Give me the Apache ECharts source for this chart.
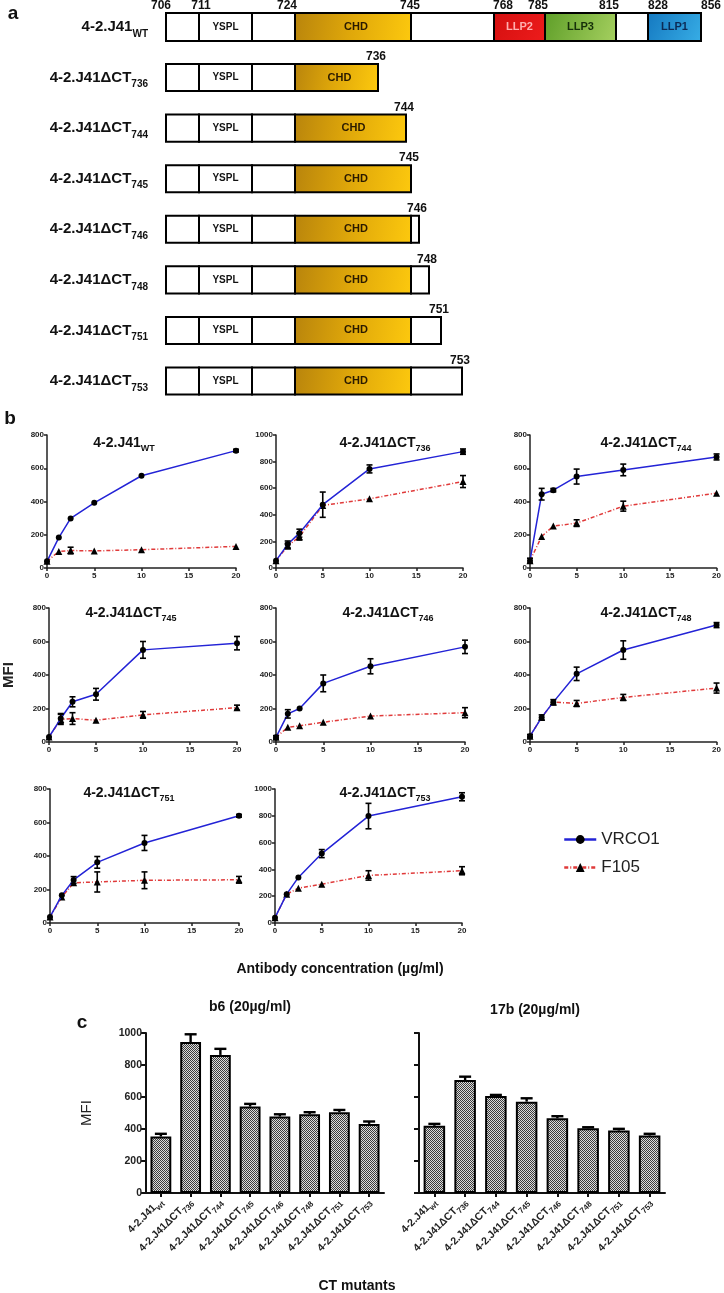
<!DOCTYPE html>
<html><head><meta charset="utf-8">
<script src="https://cdn.jsdelivr.net/npm/echarts@6/dist/echarts.min.js"></script>
<style>html,body{margin:0;padding:0;background:#fff}#c{width:724px;height:1293px}</style>
</head><body><div id="c"></div>
<script>
// ================= DATA =================
// Panel a : construct schematic (schematic units along the tail)
const constructs = ['WT','736','744','745','746','748','751','753'];
const segStart = [0,33,86,129,245,328,379,450,482];
const segEnd   = [33,86,129,245,328,379,450,482,535];
const segName  = ['','YSPL','','CHD','','LLP2','LLP3','','LLP1'];
const wtResidues   = [706,711,724,745,768,785,815,828,856];
const wtResiduePos = [0,33,129,245,328,379,450,482,535];
const truncResidues = [736,744,745,746,748,751,753];
const truncPos      = [212,240,245,253,263,275,296];

// Panel b : binding curves
const conc = [0,1.25,2.5,5,10,20];
const panelNames = ['WT','736','744','745','746','748','751','753'];
const panelYMax  = [800,1000,800,800,800,800,800,1000];
const vrc01Mean = [
  [40,183,298,392,555,706],
  [55,178,262,476,745,875],
  [44,444,468,550,590,668],
  [30,140,240,285,550,590],
  [28,168,200,350,452,568],
  [35,147,238,407,549,698],
  [36,165,257,362,478,640],
  [40,215,340,518,798,942]
];
const vrc01Err = [
  [0,0,0,0,0,8],
  [0,25,30,95,30,20],
  [15,35,10,45,35,18],
  [0,30,30,35,50,40],
  [10,25,0,50,45,40],
  [10,15,15,40,55,15],
  [0,0,20,35,45,8],
  [0,0,0,30,95,30]
];
const f105Mean = [
  [40,100,105,103,110,130],
  [55,165,235,470,520,650],
  [44,190,252,270,372,450],
  [30,135,140,130,162,205],
  [28,88,97,118,155,175],
  [35,147,238,230,266,322],
  [36,155,240,245,255,258],
  [40,215,260,290,355,390]
];
const f105Err = [
  [0,0,20,0,0,0],
  [0,20,25,0,0,45],
  [0,0,0,20,30,0],
  [0,30,35,0,20,15],
  [0,0,0,0,0,30],
  [0,0,0,18,18,30],
  [0,0,0,60,50,20],
  [0,0,0,0,35,30]
];

// Panel c : b6 and 17b binding at 20 ug/ml
const mutantLabels = ['wt','736','744','745','746','748','751','753'];
const b6Mean  = [353,943,863,540,478,492,505,432];
const b6Err   = [17,49,38,17,14,13,14,15];
const m17bMean = [420,706,607,571,467,405,390,359];
const m17bErr  = [12,21,6,21,13,6,11,11];

// ================= STYLE / LAYOUT =================
const NARROW = "'Liberation Sans Narrow','Liberation Sans',Arial,sans-serif";
const SANS = "'Liberation Sans',Arial,sans-serif";
const resLabelShift = [-5,2,-8,-1,9,-7,-7,10,10];
const domainFill = {
  '': '#ffffff',
  'YSPL': '#ffffff',
  'CHD': {type:'linear',x:0,y:0,x2:1,y2:0.6,colorStops:[{offset:0,color:'#b8840c'},{offset:0.5,color:'#e0a80a'},{offset:1,color:'#fcc80e'}]},
  'LLP2': {type:'linear',x:0,y:0,x2:1,y2:1,colorStops:[{offset:0,color:'#d40f0f'},{offset:1,color:'#ee1c1c'}]},
  'LLP3': {type:'linear',x:0,y:0,x2:1,y2:1,colorStops:[{offset:0,color:'#5e9e28'},{offset:1,color:'#a6d060'}]},
  'LLP1': {type:'linear',x:0,y:0,x2:1,y2:1,colorStops:[{offset:0,color:'#1478c0'},{offset:1,color:'#38aee6'}]}
};
const domainText = {'YSPL':'#111','CHD':'#2a1a00','LLP2':'#ffb0b0','LLP3':'#16300a','LLP1':'#0c2a55'};

const bGridLeft   = [47,276,530, 48,276,530, 50,275];
const bGridWidth  = [189,187,187, 189,189,187, 189,187];
const bGridTop    = [435,435,435, 608,608,608, 789,789];
const bGridHeight = [133,133,133, 134,134,134, 134,134];
const bTitleX = [124,385,646,131,388,646,129,385];
const bTitleY = [443,443,443,613,613,613,793,793];

// ================= BUILD =================
const grids = [], xAxes = [], yAxes = [], series = [], graphics = [];
const plain = v => String(v);

// ---- Panel a ----
grids.push({left:166, right:23, top:1.7, height:404.6});
xAxes.push({type:'value', gridIndex:0, min:0, max:535, show:false});
yAxes.push({type:'category', gridIndex:0, data:constructs, inverse:true,
  axisLine:{show:false}, axisTick:{show:false}, splitLine:{show:false},
  axisLabel:{margin:18, formatter:v => v==='WT' ? '{m|4-2.J41}{s|WT}' : '{m|4-2.J41\u0394CT}{s|'+v+'}',
    rich:{m:{fontFamily:NARROW,fontWeight:'bold',fontSize:15,color:'#111',lineHeight:24},
          s:{fontFamily:NARROW,fontWeight:'bold',fontSize:10,color:'#111',lineHeight:10,verticalAlign:'bottom'}}}
});
const segData = [];
constructs.forEach((c, r) => {
  const endLim = r === 0 ? 535 : truncPos[r-1];
  for (let i = 0; i < segStart.length; i++) {
    if (segStart[i] >= endLim) break;
    segData.push([segStart[i], Math.min(segEnd[i], endLim), r, i]);
  }
});
series.push({type:'custom', xAxisIndex:0, yAxisIndex:0, data:segData, encode:{x:[0,1], y:2},
  renderItem:(params, api) => {
    const s = api.coord([api.value(0), api.value(2)]);
    const e = api.coord([api.value(1), api.value(2)]);
    const row = api.value(2);
    const h = row === 0 ? 28 : api.size([0,1])[1]*0.535;
    const name = segName[api.value(3)];
    const ch = [{type:'rect', shape:{x:s[0], y:s[1]-h/2, width:e[0]-s[0], height:h},
      style:{fill:domainFill[name], stroke:'#000', lineWidth:2}}];
    if (name) ch.push({type:'text', style:{x:(s[0]+e[0])/2 + (name==='CHD'?3:0), y:s[1], text:name, align:'center', verticalAlign:'middle',
      font:'bold '+(name==='YSPL'?10:11)+'px '+NARROW, fill:domainText[name]}});
    return {type:'group', children:ch};
  }});
// residue numbers on WT
series.push({type:'custom', xAxisIndex:0, yAxisIndex:0, data:wtResidues.map((r,i)=>[wtResiduePos[i],0,r,i]), encode:{x:0,y:1},
  renderItem:(params, api) => {
    const p = api.coord([api.value(0), api.value(1)]);
    return {type:'text', style:{x:p[0]+resLabelShift[api.value(3)], y:p[1]-15, text:String(api.value(2)), align:'center', verticalAlign:'bottom',
      font:'bold 12px '+NARROW, fill:'#111'}};
  }});
// truncation numbers
series.push({type:'custom', xAxisIndex:0, yAxisIndex:0, data:truncResidues.map((r,i)=>[truncPos[i],i+1,r]), encode:{x:0,y:1},
  renderItem:(params, api) => {
    const p = api.coord([api.value(0), api.value(1)]);
    const h = api.size([0,1])[1]*0.535;
    return {type:'text', style:{x:p[0]-2, y:p[1]-h/2-1, text:String(api.value(2)), align:'center', verticalAlign:'bottom',
      font:'bold 12px '+NARROW, fill:'#111'}};
  }});

// ---- Panel b ----
function errRender(params, api) {
  const x = api.value(0), m = api.value(1), e = api.value(2);
  if (!e) return null;
  const t = api.coord([x, m+e]), b = api.coord([x, m-e]);
  const w = 3, st = {stroke:'#000', lineWidth:1.6};
  return {type:'group', children:[
    {type:'line', shape:{x1:t[0],y1:t[1],x2:b[0],y2:b[1]}, style:st},
    {type:'line', shape:{x1:t[0]-w,y1:t[1],x2:t[0]+w,y2:t[1]}, style:st},
    {type:'line', shape:{x1:b[0]-w,y1:b[1],x2:b[0]+w,y2:b[1]}, style:st}
  ]};
}
const axisCol = '#222';
panelNames.forEach((nm, k) => {
  const gi = k + 1;
  grids.push({left:bGridLeft[k], top:bGridTop[k], width:bGridWidth[k], height:bGridHeight[k]});
  xAxes.push({type:'value', gridIndex:gi, min:0, max:20, interval:5,
    axisLine:{show:true, onZero:false, lineStyle:{color:axisCol, width:1.5}},
    axisTick:{show:true, length:3, lineStyle:{color:axisCol, width:1.5}},
    axisLabel:{margin:4, formatter:plain, fontFamily:SANS, fontWeight:'bold', fontSize:8, color:'#222'},
    splitLine:{show:false}});
  const ya = {type:'value', gridIndex:gi, min:0, max:panelYMax[k], interval:200,
    axisLine:{show:true, onZero:false, lineStyle:{color:axisCol, width:1.5}},
    axisTick:{show:true, length:3, lineStyle:{color:axisCol, width:1.5}},
    axisLabel:{margin:3, formatter:plain, fontFamily:SANS, fontWeight:'bold', fontSize:8, color:'#222'},
    splitLine:{show:false}};
  if (k === 3) Object.assign(ya, {name:'MFI', nameLocation:'middle', nameGap:33, nameRotate:90,
    nameTextStyle:{fontFamily:SANS, fontWeight:'bold', fontSize:15, color:'#222'}});
  yAxes.push(ya);
  series.push({type:'line', name:'VRCO1', xAxisIndex:gi, yAxisIndex:gi,
    data:conc.map((c,i)=>[c, vrc01Mean[k][i]]), symbol:'circle', symbolSize:6,
    lineStyle:{color:'#2323d6', width:1.5}, itemStyle:{color:'#000'}, z:3});
  series.push({type:'line', name:'F105', xAxisIndex:gi, yAxisIndex:gi,
    data:conc.map((c,i)=>[c, f105Mean[k][i]]), symbol:'triangle', symbolSize:7,
    lineStyle:{color:'#e03a3a', width:1.5, type:[4,2,1,2]}, itemStyle:{color:'#000'}, z:2});
  series.push({type:'custom', xAxisIndex:gi, yAxisIndex:gi, renderItem:errRender, encode:{x:0,y:1}, z:4,
    data:conc.map((c,i)=>[c, vrc01Mean[k][i], vrc01Err[k][i]])});
  series.push({type:'custom', xAxisIndex:gi, yAxisIndex:gi, renderItem:errRender, encode:{x:0,y:1}, z:4,
    data:conc.map((c,i)=>[c, f105Mean[k][i], f105Err[k][i]])});
  graphics.push({type:'text', x:bTitleX[k], y:bTitleY[k], style:{
    text: nm==='WT' ? '{m|4-2.J41}{s|WT}' : '{m|4-2.J41\u0394CT}{s|'+nm+'}',
    align:'center', verticalAlign:'middle',
    rich:{m:{fontFamily:NARROW,fontWeight:'bold',fontSize:14,fill:'#111',lineHeight:20},
          s:{fontFamily:NARROW,fontWeight:'bold',fontSize:9,fill:'#111',lineHeight:9,verticalAlign:'bottom'}}}});
});

// ---- Panel c ----
const pc = document.createElement('canvas'); pc.width = 2; pc.height = 2;
const pctx = pc.getContext('2d');
pctx.fillStyle = '#dcdcdc'; pctx.fillRect(0,0,2,2);
pctx.fillStyle = '#3c3c3c'; pctx.fillRect(0,0,1,1); pctx.fillRect(1,1,1,1);
const hatch = {image: pc, repeat:'repeat'};
function barErrRender(params, api) {
  const x = api.value(0), m = api.value(1), e = api.value(2);
  const t = api.coord([x, m+e]), b = api.coord([x, m]);
  const w = 6, st = {stroke:'#000', lineWidth:2.4};
  return {type:'group', children:[
    {type:'line', shape:{x1:t[0],y1:t[1],x2:b[0],y2:b[1]}, style:st},
    {type:'line', shape:{x1:t[0]-w,y1:t[1],x2:t[0]+w,y2:t[1]}, style:st}
  ]};
}
const cPanels = [{mean:b6Mean, err:b6Err, left:146, width:238, labels:true},
                 {mean:m17bMean, err:m17bErr, left:419, width:246, labels:false}];
cPanels.forEach((p, j) => {
  const gi = 9 + j;
  grids.push({left:p.left, top:1033, width:p.width, height:160});
  xAxes.push({type:'category', gridIndex:gi, data:mutantLabels,
    axisLine:{show:true, onZero:false, lineStyle:{color:'#111', width:2}},
    axisTick:{show:true, alignWithLabel:true, length:4, lineStyle:{color:'#111', width:2}},
    axisLabel:{interval:0, rotate:45, margin:7,
      formatter:v => v==='wt' ? '{m|4-2.J41}{s|wt}' : '{m|4-2.J41\u0394CT}{s|'+v+'}',
      rich:{m:{fontFamily:SANS,fontWeight:'bold',fontSize:10.5,color:'#222',lineHeight:16},
            s:{fontFamily:SANS,fontWeight:'bold',fontSize:8,color:'#222',lineHeight:8,verticalAlign:'bottom'}}}});
  const ya = {type:'value', gridIndex:gi, min:0, max:1000, interval:200,
    axisLine:{show:true, onZero:false, lineStyle:{color:'#111', width:2}},
    axisTick:{show:true, length:5, lineStyle:{color:'#111', width:2}},
    axisLabel:{show:p.labels, margin:4, formatter:plain, fontFamily:SANS, fontWeight:'bold', fontSize:10.5, color:'#222'},
    splitLine:{show:false}};
  if (j === 0) Object.assign(ya, {name:'MFI', nameLocation:'middle', nameGap:52, nameRotate:90,
    nameTextStyle:{fontFamily:SANS, fontSize:15, color:'#222'}});
  yAxes.push(ya);
  series.push({type:'bar', xAxisIndex:gi, yAxisIndex:gi, data:p.mean, barWidth:'70%',
    itemStyle:{color:hatch, borderColor:'#000', borderWidth:2}});
  series.push({type:'custom', xAxisIndex:gi, yAxisIndex:gi, renderItem:barErrRender, encode:{x:0,y:1}, z:3,
    data:p.mean.map((m,i)=>[i, m, p.err[i]])});
});

// ---- free texts ----
function txt(x, y, text, font, extra) {
  graphics.push({type:'text', x:x, y:y, style:Object.assign({text:text, font:font, fill:'#111', align:'center', verticalAlign:'middle'}, extra||{})});
}
txt(13, 14, 'a', 'bold 19px '+SANS);
txt(10, 419, 'b', 'bold 19px '+SANS);
txt(82, 1023, 'c', 'bold 19px '+SANS);
txt(340, 969, 'Antibody concentration (\u00b5g/ml)', 'bold 14px '+SANS);
txt(250, 1007, 'b6 (20\u00b5g/ml)', 'bold 14px '+SANS);
txt(535, 1010, '17b (20\u00b5g/ml)', 'bold 14px '+SANS);
txt(357, 1286, 'CT mutants', 'bold 14px '+SANS);

const chart = echarts.init(document.getElementById('c'), null, {renderer:'canvas'});
chart.setOption({
  animation:false,
  backgroundColor:'#fff',
  grid:grids, xAxis:xAxes, yAxis:yAxes, series:series, graphic:graphics,
  legend:{data:['VRCO1','F105'], orient:'vertical', left:558, top:826, itemWidth:32, itemHeight:11, itemGap:11,
    lineStyle:{width:2.5}, textStyle:{fontFamily:SANS, fontSize:17, color:'#222'}, selectedMode:false}
});
</script></body></html>
